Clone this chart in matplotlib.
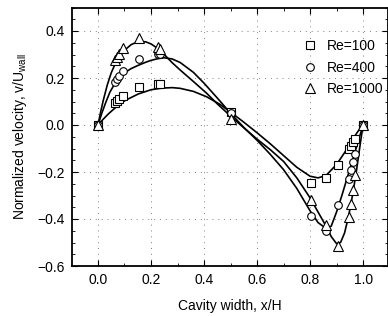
import numpy as np
import matplotlib
matplotlib.use("Agg")
import matplotlib.pyplot as plt
from matplotlib.ticker import MultipleLocator

plt.rcParams['font.family'] = ['Liberation Sans', 'DejaVu Sans']

# benchmark points (Ghia et al.) along the horizontal centreline
x_pts = [0.0, 0.0625, 0.0703, 0.0781, 0.0938, 0.1563, 0.2266, 0.2344, 0.5,
         0.8047, 0.8594, 0.9063, 0.9453, 0.9531, 0.9609, 0.9688, 1.0]
v_re100 = [0.0, 0.0923, 0.1009, 0.1089, 0.1232, 0.1608, 0.1751, 0.1753, 0.0545,
           -0.2453, -0.2245, -0.1691, -0.1031, -0.0886, -0.0739, -0.0591, 0.0]
v_re400 = [0.0, 0.1836, 0.1971, 0.2092, 0.2297, 0.2812, 0.3020, 0.3017, 0.0519,
           -0.3860, -0.4499, -0.3383, -0.2285, -0.1925, -0.1566, -0.1215, 0.0]
v_re1000 = [0.0, 0.2749, 0.2901, 0.3035, 0.3263, 0.3710, 0.3308, 0.3224, 0.0253,
            -0.3197, -0.4267, -0.5155, -0.3919, -0.3371, -0.2767, -0.2139, 0.0]

# simulated profiles
x_c100 = [0.0, 0.02, 0.04, 0.064, 0.1, 0.152, 0.2, 0.24, 0.28, 0.31, 0.36, 0.41, 0.46,
          0.5, 0.55, 0.6, 0.65, 0.7, 0.75, 0.8, 0.83, 0.86, 0.9, 0.93, 0.96, 0.98, 1.0]
c100 = [0.0, 0.025, 0.048, 0.072, 0.103, 0.132, 0.150, 0.157, 0.159, 0.156, 0.143, 0.120, 0.088,
        0.055, 0.012, -0.033, -0.080, -0.130, -0.180, -0.218, -0.225, -0.215, -0.168, -0.118, -0.062, -0.028, 0.0]
x_c400 = [0.0, 0.015, 0.03, 0.045, 0.064, 0.08, 0.1, 0.125, 0.152, 0.18, 0.2, 0.225, 0.25, 0.28,
          0.31, 0.36, 0.4, 0.45, 0.5, 0.55, 0.6, 0.65, 0.7, 0.75, 0.8, 0.83, 0.86, 0.88,
          0.9, 0.92, 0.94, 0.96, 0.98, 1.0]
c400 = [0.0, 0.052, 0.098, 0.140, 0.177, 0.201, 0.222, 0.240, 0.254, 0.267, 0.275, 0.282, 0.286, 0.281,
        0.266, 0.224, 0.178, 0.115, 0.050, -0.010, -0.065, -0.125, -0.190, -0.270, -0.365, -0.415, -0.440, -0.430,
        -0.370, -0.300, -0.225, -0.150, -0.075, 0.0]
x_c1000 = [0.0, 0.01, 0.02, 0.035, 0.05, 0.064, 0.08, 0.1, 0.125, 0.152, 0.18, 0.2, 0.22,
           0.25, 0.28, 0.31, 0.36, 0.41, 0.45, 0.5, 0.55, 0.6, 0.65, 0.7, 0.75, 0.8,
           0.83, 0.86, 0.88, 0.9, 0.915, 0.93, 0.945, 0.96, 0.975, 0.99, 1.0]
c1000 = [0.0, 0.055, 0.105, 0.170, 0.222, 0.258, 0.290, 0.318, 0.342, 0.355, 0.354, 0.345, 0.330,
         0.300, 0.265, 0.234, 0.185, 0.135, 0.090, 0.038, -0.012, -0.060, -0.105, -0.155, -0.225, -0.310,
         -0.370, -0.430, -0.475, -0.505, -0.500, -0.460, -0.390, -0.300, -0.195, -0.075, 0.0]

fig = plt.figure(figsize=(3.88, 3.16), dpi=100)
ax = fig.add_axes([72 / 388, 1 - 266 / 316, 316 / 388, 258.5 / 316])

ax.plot(x_c100, c100, color='black', lw=1.2)
ax.plot(x_c400, c400, color='black', lw=1.2)
ax.plot(x_c1000, c1000, color='black', lw=1.2)

ax.plot(x_pts, v_re100, ls='none', marker='s', ms=5.5, mfc='white', mec='black', mew=0.8, label='Re=100')
ax.plot(x_pts, v_re400, ls='none', marker='o', ms=5.5, mfc='white', mec='black', mew=0.8, label='Re=400')
ax.plot(x_pts, v_re1000, ls='none', marker='^', ms=6.5, mfc='white', mec='black', mew=0.8, label='Re=1000')

ax.set_xlim(-0.098, 1.094)
ax.set_ylim(-0.6, 0.5)
ax.xaxis.set_minor_locator(MultipleLocator(0.1))
ax.yaxis.set_minor_locator(MultipleLocator(0.05))
ax.set_yticks([-0.6, -0.4, -0.2, 0.0, 0.2, 0.4])
ax.set_xticks([0.0, 0.2, 0.4, 0.6, 0.8, 1.0])
ax.tick_params(which='both', direction='in', top=True, right=True, labelsize=10)
ax.tick_params(which='major', length=4, pad=5)
ax.tick_params(which='minor', length=2)
ax.grid(True, which='major', ls=(0, (1, 5)), color='gray', lw=0.7)
for s in ax.spines.values():
    s.set_linewidth(1.3)

ax.set_xlabel('Cavity width, x/H', fontsize=10, labelpad=9)
ax.set_ylabel('Normalized velocity, v/U$_{\\mathregular{wall}}$', fontsize=10, labelpad=6)

ax.legend(loc='upper left', bbox_to_anchor=(0.71, 0.9), frameon=False, fontsize=10,
          handlelength=1.2, handletextpad=0.6, labelspacing=0.55, borderaxespad=0)

fig.savefig('out.png', dpi=100)
